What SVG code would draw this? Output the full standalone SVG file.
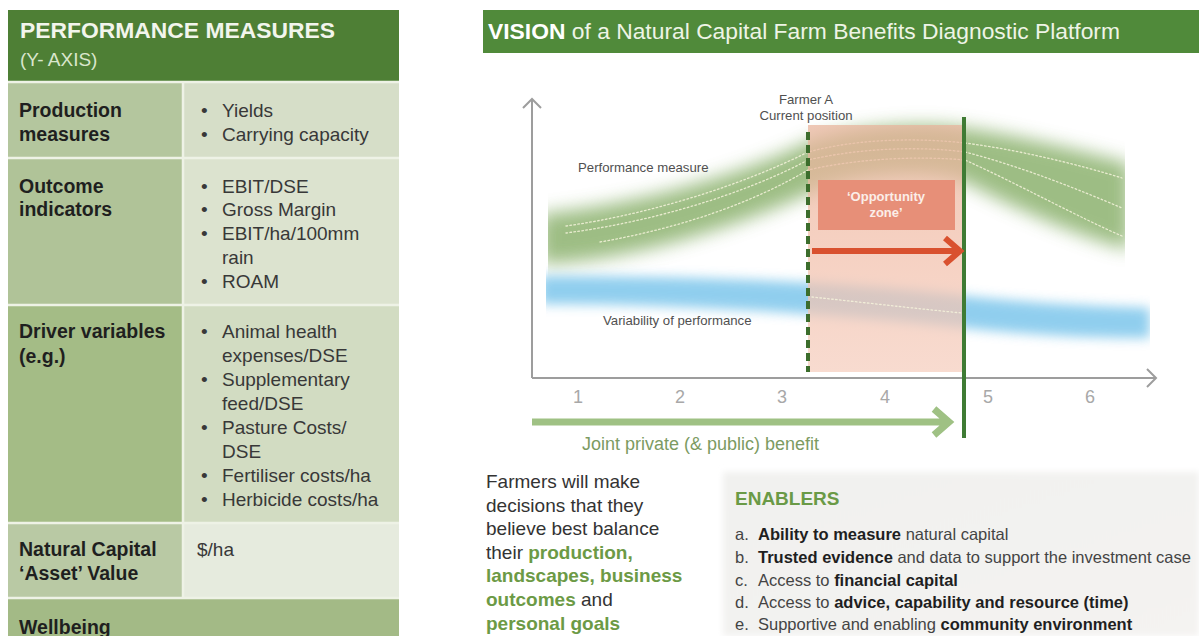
<svg xmlns="http://www.w3.org/2000/svg" width="1199" height="636" viewBox="0 0 1199 636">
  <defs>
    <style>
      text { font-family: "Liberation Sans", Arial, sans-serif; }
      .hdr { fill: #4e7f35; }
      .hdr-title { font-size: 22px; font-weight: bold; fill: #f2f5ec; }
      .hdr-sub { font-size: 19px; fill: #d9e6cc; }
      .lbl { font-size: 19.5px; font-weight: bold; fill: #1f1f1f; }
      .item { font-size: 19px; fill: #383838; }
      .sep { stroke: #eef2e6; stroke-width: 2.5; }
      .axis { fill: none; stroke: #9d9d9d; stroke-width: 2; }
      .tick { font-size: 18px; fill: #a8a8a8; text-anchor: middle; }
      .note { font-size: 13.2px; fill: #505050; }
      .dots { fill: none; stroke: #f6f3dc; stroke-width: 1.3; stroke-dasharray: 1.6 2.4; stroke-linecap: round; opacity: 0.85; }
      .para { font-size: 19px; fill: #333333; }
      .para .g { font-weight: bold; fill: #6c9a45; }
      .en { font-size: 16.5px; fill: #444444; }
      .en .b { font-weight: bold; fill: #1f1f1f; }
    </style>
    <filter id="soft" x="-20%" y="-40%" width="140%" height="180%">
      <feGaussianBlur stdDeviation="9"/>
    </filter>
    <filter id="softer" x="-20%" y="-60%" width="140%" height="220%">
      <feGaussianBlur stdDeviation="6"/>
    </filter>
    <filter id="haze" x="-5%" y="-10%" width="110%" height="120%">
      <feGaussianBlur stdDeviation="3"/>
    </filter>
    <clipPath id="bandClip">
      <rect x="548" y="90" width="577" height="200"/>
    </clipPath>
    <clipPath id="blueClip">
      <rect x="546" y="250" width="604" height="110"/>
    </clipPath>
    <linearGradient id="pinkFill" x1="0" y1="0" x2="0" y2="1">
      <stop offset="0" stop-color="#e9b39b"/>
      <stop offset="0.5" stop-color="#f2bfaa"/>
      <stop offset="1" stop-color="#f5cdbd"/>
    </linearGradient>
    <linearGradient id="enablerFill" x1="0" y1="0" x2="1" y2="1">
      <stop offset="0" stop-color="#f1f1ef"/>
      <stop offset="1" stop-color="#f4f3f1"/>
    </linearGradient>
  </defs>

  <rect width="1199" height="636" fill="#ffffff"/>

  <!-- Left panel: performance measures table -->
  <g id="performance-measures">
    <g id="pm-header">
      <rect class="hdr" x="8" y="10" width="391" height="72"/>
      <text class="hdr-title" x="20" y="38" textLength="315" lengthAdjust="spacingAndGlyphs">PERFORMANCE MEASURES</text>
      <text class="hdr-sub" x="20" y="66">(Y- AXIS)</text>
    </g>

    <g id="row-production">
      <rect x="8" y="82" width="175" height="76" fill="#b4c69e"/>
      <rect x="183" y="82" width="216" height="76" fill="#d6dec8"/>
      <text class="lbl" x="19" y="117">Production</text>
      <text class="lbl" x="19" y="141">measures</text>
      <text class="item" x="201" y="117">•</text>
      <text class="item" x="222" y="117">Yields</text>
      <text class="item" x="201" y="141">•</text>
      <text class="item" x="222" y="141">Carrying capacity</text>
    </g>

    <g id="row-outcome">
      <rect x="8" y="158" width="175" height="147" fill="#b0c398"/>
      <rect x="183" y="158" width="216" height="147" fill="#dce3cf"/>
      <text class="lbl" x="19" y="193">Outcome</text>
      <text class="lbl" x="19" y="216">indicators</text>
      <text class="item" x="201" y="193">•</text>
      <text class="item" x="222" y="193">EBIT/DSE</text>
      <text class="item" x="201" y="216">•</text>
      <text class="item" x="222" y="216">Gross Margin</text>
      <text class="item" x="201" y="240">•</text>
      <text class="item" x="222" y="240">EBIT/ha/100mm</text>
      <text class="item" x="222" y="264">rain</text>
      <text class="item" x="201" y="288">•</text>
      <text class="item" x="222" y="288">ROAM</text>
    </g>

    <g id="row-drivers">
      <rect x="8" y="305" width="175" height="218" fill="#a4bc86"/>
      <rect x="183" y="305" width="216" height="218" fill="#d2dcc2"/>
      <text class="lbl" x="19" y="338">Driver variables</text>
      <text class="lbl" x="19" y="363">(e.g.)</text>
      <text class="item" x="201" y="338">•</text>
      <text class="item" x="222" y="338">Animal health</text>
      <text class="item" x="222" y="362">expenses/DSE</text>
      <text class="item" x="201" y="386">•</text>
      <text class="item" x="222" y="386">Supplementary</text>
      <text class="item" x="222" y="410">feed/DSE</text>
      <text class="item" x="201" y="434">•</text>
      <text class="item" x="222" y="434">Pasture Costs/</text>
      <text class="item" x="222" y="458">DSE</text>
      <text class="item" x="201" y="482">•</text>
      <text class="item" x="222" y="482">Fertiliser costs/ha</text>
      <text class="item" x="201" y="506">•</text>
      <text class="item" x="222" y="506">Herbicide costs/ha</text>
    </g>

    <g id="row-natural-capital">
      <rect x="8" y="523" width="175" height="75" fill="#b9c9a4"/>
      <rect x="183" y="523" width="216" height="75" fill="#e6ebde"/>
      <text class="lbl" x="19" y="556">Natural Capital</text>
      <text class="lbl" x="19" y="580">‘Asset’ Value</text>
      <text class="item" x="197" y="556">$/ha</text>
    </g>

    <g id="row-wellbeing">
      <rect x="8" y="598" width="391" height="38" fill="#a3ba86"/>
      <text class="lbl" x="19" y="634">Wellbeing</text>
    </g>

    <!-- cell dividers -->
    <g id="pm-grid">
      <line class="sep" x1="8" y1="82" x2="399" y2="82"/>
      <line class="sep" x1="8" y1="158" x2="399" y2="158"/>
      <line class="sep" x1="8" y1="305" x2="399" y2="305"/>
      <line class="sep" x1="8" y1="523" x2="399" y2="523"/>
      <line class="sep" x1="8" y1="598" x2="399" y2="598"/>
      <line class="sep" x1="183" y1="82" x2="183" y2="598"/>
    </g>
  </g>

  <!-- Right panel header -->
  <g id="vision-header">
    <rect x="483" y="10" width="716" height="43" fill="#508a3a"/>
    <text x="488" y="39" font-size="22.5" fill="#eef4e6" textLength="632" lengthAdjust="spacingAndGlyphs"><tspan font-weight="bold" fill="#ffffff">VISION</tspan> of a Natural Capital Farm Benefits Diagnostic Platform</text>
  </g>

  <!-- Chart -->
  <g id="chart">
    <!-- performance band -->
    <g id="performance-band" clip-path="url(#bandClip)">
      <path d="M540,214 C620,206 720,184 808,142 C860,124 930,122 965,128 C1010,134 1080,150 1130,164 L1130,250 C1080,238 1010,206 965,182 C930,170 860,172 808,194 C720,234 620,262 540,264 Z" fill="#82ab62" opacity="0.78" filter="url(#soft)"/>
      <path class="dots" d="M566,226 C650,214 740,186 808,152 C860,138 920,138 965,143 C1020,150 1080,165 1122,178"/>
      <path class="dots" d="M566,233 C650,222 740,196 808,160 C860,148 920,146 965,152 C1020,166 1080,190 1122,208"/>
      <path class="dots" d="M600,242 C680,228 750,204 808,170 C860,158 920,156 965,160 C1020,185 1080,218 1122,236"/>
    </g>

    <!-- variability band -->
    <g id="variability-band" clip-path="url(#blueClip)">
      <path d="M540,276 C700,276 850,282 965,296 C1040,304 1100,306 1150,308 L1150,338 C1100,338 1040,336 965,328 C850,316 700,304 540,304 Z" fill="#74c2ea" opacity="0.8" filter="url(#softer)"/>
    </g>

    <!-- opportunity zone -->
    <g id="opportunity-zone">
      <rect x="808" y="125" width="154" height="247" fill="url(#pinkFill)" opacity="0.72"/>
      <path class="dots" d="M812,297 C860,302 910,308 962,313"/>
      <rect x="818" y="180" width="137" height="50" fill="#e78f78"/>
      <text x="886" y="201" font-size="13" font-weight="bold" fill="#fbeee8" text-anchor="middle">‘Opportunity</text>
      <text x="886" y="217" font-size="13" font-weight="bold" fill="#fbeee8" text-anchor="middle">zone’</text>
    </g>

    <g id="chart-labels">
      <text class="note" x="578" y="172">Performance measure</text>
      <text class="note" x="603" y="325">Variability of performance</text>
      <text class="note" x="806" y="104" text-anchor="middle">Farmer A</text>
      <text class="note" x="806" y="120" text-anchor="middle">Current position</text>
    </g>

    <g id="x-ticks">
      <text class="tick" x="578" y="403">1</text>
      <text class="tick" x="680" y="403">2</text>
      <text class="tick" x="782" y="403">3</text>
      <text class="tick" x="885" y="403">4</text>
      <text class="tick" x="988" y="403">5</text>
      <text class="tick" x="1090" y="403">6</text>
    </g>

    <text id="benefit-label" x="582" y="450" font-size="18" fill="#7c9b62">Joint private (&amp; public) benefit</text>
  </g>

  <!-- Connectors: axes, markers and arrows -->
  <g id="connectors">
    <path class="axis" d="M532,378 V99 M523,108 L532,99 L541,108"/>
    <path class="axis" d="M532,378 H1156 M1147,369 L1156,378 L1147,387"/>
    <line x1="808" y1="132" x2="808" y2="372" stroke="#3c6d2c" stroke-width="4" stroke-dasharray="8 5"/>
    <line x1="964" y1="117" x2="964" y2="438" stroke="#3f7b34" stroke-width="4"/>
    <path d="M812,251 H958 M945,238 L960,251 L945,264" fill="none" stroke="#d9512f" stroke-width="6"/>
    <path d="M532,422 H946 M934,409 L949,422 L934,435" fill="none" stroke="#9fc184" stroke-width="7"/>
  </g>

  <!-- Decision statement -->
  <g id="decision-text">
    <text class="para" x="486" y="488">Farmers will make</text>
    <text class="para" x="486" y="512">decisions that they</text>
    <text class="para" x="486" y="535">believe best balance</text>
    <text class="para" x="486" y="559">their <tspan class="g">production,</tspan></text>
    <text class="para" x="486" y="582"><tspan class="g">landscapes, business</tspan></text>
    <text class="para" x="486" y="606"><tspan class="g">outcomes</tspan> and</text>
    <text class="para" x="486" y="630"><tspan class="g">personal goals</tspan></text>
  </g>

  <!-- Enablers panel -->
  <g id="enablers">
    <rect x="723" y="472" width="476" height="164" fill="url(#enablerFill)" filter="url(#haze)"/>
    <text x="735" y="505" font-size="19" font-weight="bold" fill="#6a9a46">ENABLERS</text>
    <text class="en" x="735" y="540">a.</text>
    <text class="en" x="758" y="540"><tspan class="b">Ability to measure</tspan> natural capital</text>
    <text class="en" x="735" y="563">b.</text>
    <text class="en" x="758" y="563"><tspan class="b">Trusted evidence</tspan> and data to support the investment case</text>
    <text class="en" x="735" y="586">c.</text>
    <text class="en" x="758" y="586">Access to <tspan class="b">financial capital</tspan></text>
    <text class="en" x="735" y="608">d.</text>
    <text class="en" x="758" y="608">Access to <tspan class="b">advice, capability and resource (time)</tspan></text>
    <text class="en" x="735" y="630">e.</text>
    <text class="en" x="758" y="630">Supportive and enabling <tspan class="b">community environment</tspan></text>
  </g>
</svg>
